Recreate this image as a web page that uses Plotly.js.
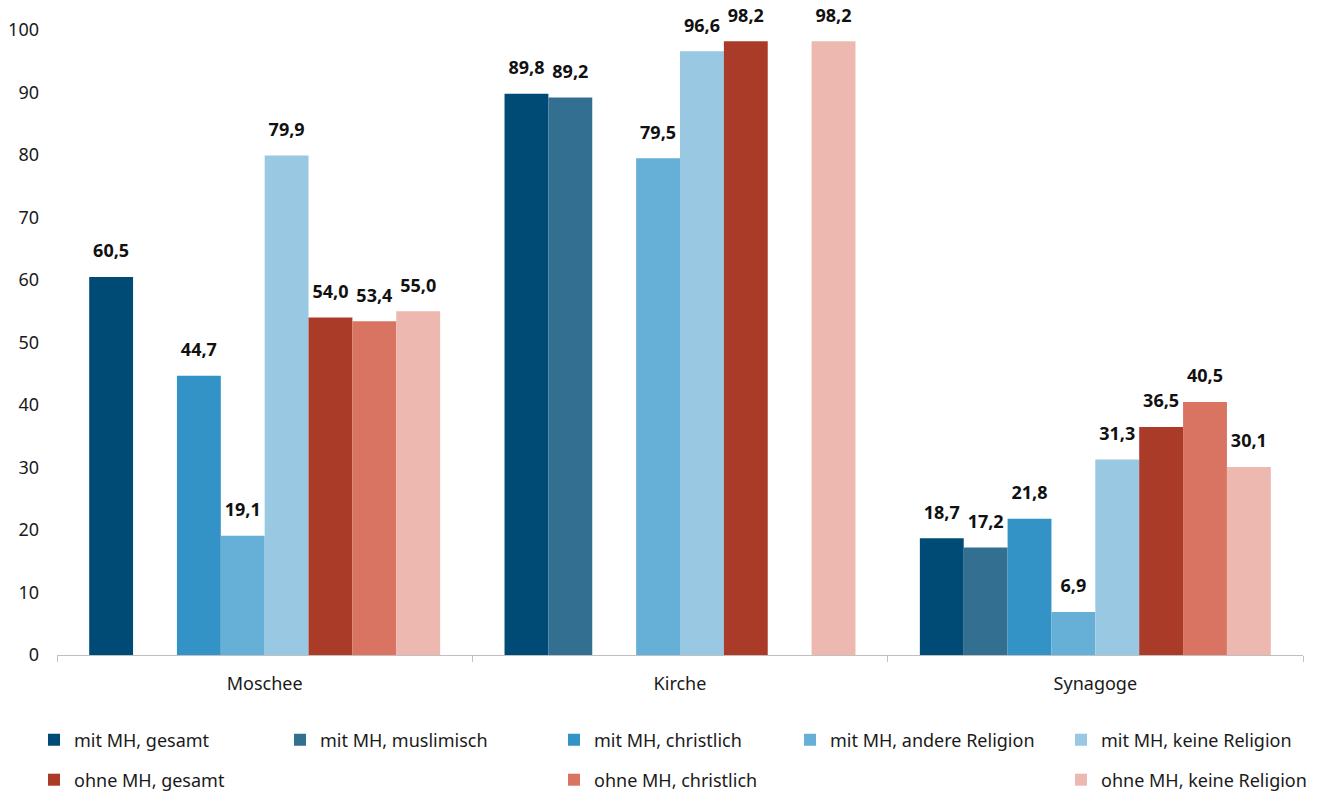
<!DOCTYPE html>
<html>
<head>
<meta charset="utf-8">
<script src="https://cdn.plot.ly/plotly-3.0.1.min.js"></script>
<style>
  html, body { margin: 0; padding: 0; background: #ffffff; }
  #chart { width: 1322px; height: 792px; }
</style>
</head>
<body>
<div id="chart"></div>
<script>
const categories = ['Moschee', 'Kirche', 'Synagoge'];
const seriesNames = [
  'mit MH, gesamt',
  'mit MH, muslimisch',
  'mit MH, christlich',
  'mit MH, andere Religion',
  'mit MH, keine Religion',
  'ohne MH, gesamt',
  'ohne MH, christlich',
  'ohne MH, keine Religion'
];
const mitGesamt      = [60.5, 89.8, 18.7];
const mitMuslimisch  = [null, 89.2, 17.2];
const mitChristlich  = [44.7, null, 21.8];
const mitAndere      = [19.1, 79.5, 6.9];
const mitKeine       = [79.9, 96.6, 31.3];
const ohneGesamt     = [54.0, 98.2, 36.5];
const ohneChristlich = [53.4, null, 40.5];
const ohneKeine      = [55.0, 98.2, 30.1];
const yTicks = [0, 10, 20, 30, 40, 50, 60, 70, 80, 90, 100];

const seriesValues = [mitGesamt, mitMuslimisch, mitChristlich, mitAndere, mitKeine, ohneGesamt, ohneChristlich, ohneKeine];
const colors = ['#004b76', '#336f91', '#3392c6', '#66afd6', '#99c8e2', '#a93b28', '#d97463', '#ecb8af'];

const FONT = '"Noto Sans", "Open Sans", sans-serif';
const W = 1322, H = 792;
const mL = 57, mR = 19, mT = 30, mB = 137;
const plotW = W - mL - mR, plotH = H - mT - mB;

// legend placement (pixel positions of text start / row centre)
const legendTextX = [74, 320, 594, 830, 1101, 74, 594, 1101];
const legendRowY  = [740, 740, 740, 740, 740, 780, 780, 780];
const TEXT_OFFSET = 40; // distance from legend box left to text start

const traces = seriesValues.map((vals, i) => ({
  type: 'bar',
  name: seriesNames[i],
  x: categories,
  y: vals,
  marker: { color: colors[i], line: { width: 0 } },
  texttemplate: '<span style="font-size:18px">%{y:.1f}</span><br><span style="font-size:4px">\u00a0</span>',
  textposition: 'outside',
  textfont: { family: FONT, size: 12, color: '#111111', weight: 'bold' },
  constraintext: 'none',
  cliponaxis: false,
  hoverinfo: 'x+y+name',
  legend: i === 0 ? 'legend' : 'legend' + (i + 1)
}));

const layout = {
  width: W, height: H,
  margin: { l: mL, r: mR, t: mT, b: mB, pad: 0, autoexpand: false },
  paper_bgcolor: '#ffffff',
  plot_bgcolor: '#ffffff',
  separators: ',.',
  font: { family: FONT, size: 18, color: '#1a1a1a' },
  barmode: 'group',
  bargap: 0.155,
  bargroupgap: 0,
  showlegend: true,
  xaxis: {
    type: 'category',
    showgrid: false,
    showline: true,
    linecolor: '#c0c0c0',
    linewidth: 1,
    ticks: 'outside',
    tickson: 'boundaries',
    ticklen: 6,
    tickcolor: '#c0c0c0',
    tickfont: { family: FONT, size: 18, color: '#1a1a1a' },
    ticklabelstandoff: 12,
    zeroline: false
  },
  yaxis: {
    range: [0, 100],
    tickvals: yTicks,
    showgrid: false,
    showline: false,
    zeroline: false,
    ticks: '',
    tickfont: { family: FONT, size: 18, color: '#1a1a1a' },
    ticklabelstandoff: 17,
    fixedrange: true
  }
};

legendTextX.forEach((tx, i) => {
  const key = i === 0 ? 'legend' : 'legend' + (i + 1);
  layout[key] = {
    x: (tx - TEXT_OFFSET - mL) / plotW,
    y: (mT + plotH - legendRowY[i]) / plotH,
    xref: 'paper', yref: 'paper',
    xanchor: 'left', yanchor: 'middle',
    orientation: 'v',
    bgcolor: 'rgba(0,0,0,0)',
    borderwidth: 0,
    itemwidth: 30,
    font: { family: FONT, size: 18, color: '#1a1a1a' }
  };
});

Plotly.newPlot('chart', traces, layout, { displayModeBar: false });
</script>
</body>
</html>
